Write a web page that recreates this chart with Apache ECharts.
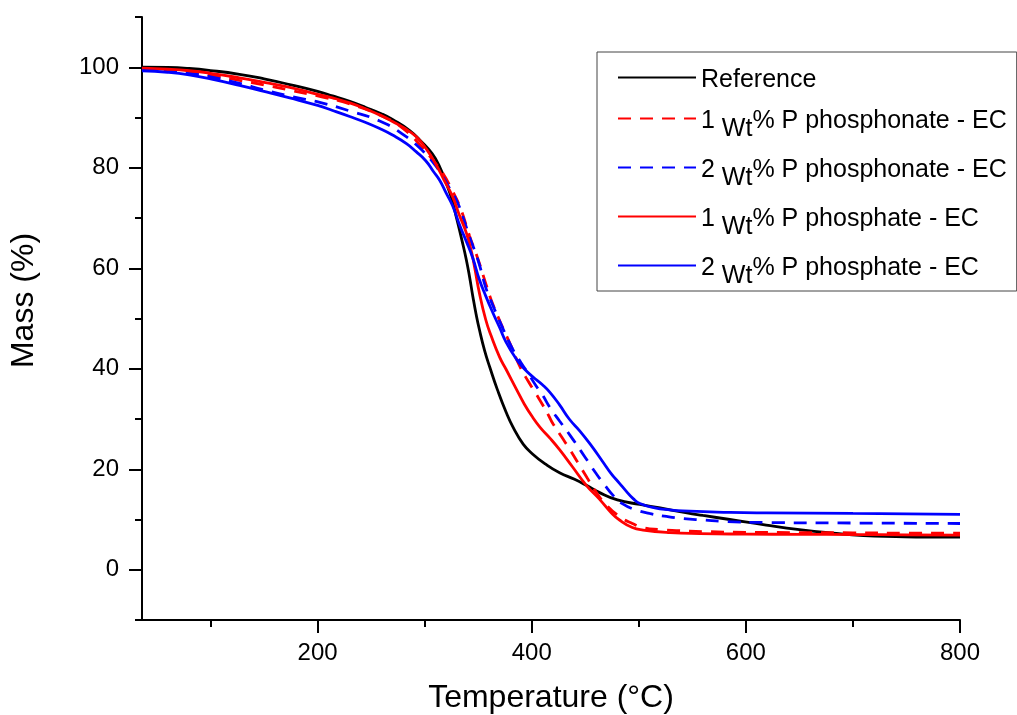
<!DOCTYPE html>
<html>
<head>
<meta charset="utf-8">
<script src="https://cdn.jsdelivr.net/npm/echarts@6/dist/echarts.min.js"></script>
<style>
html,body{margin:0;padding:0;background:#ffffff;}
#chart{width:1017px;height:715px;}
</style>
</head>
<body>
<div id="chart"></div>
<script>
// ---------- data ----------
const seriesNames = [
  'Reference',
  '1 Wt% P phosphonate - EC',
  '2 Wt% P phosphonate - EC',
  '1 Wt% P phosphate - EC',
  '2 Wt% P phosphate - EC'
];
const seriesColors = ['#000000', '#ff0000', '#0000ff', '#ff0000', '#0000ff'];
const seriesDashed = [false, true, true, false, false];

const xLabelValues = [200, 400, 600, 800];
const xMinorTickValues = [100, 300, 500, 700];
const yLabelValues = [0, 20, 40, 60, 80, 100];
const yMinorTickValues = [-10, 10, 30, 50, 70, 90, 110];

// [temperature °C, mass %]
const referenceData = [
  [36,100.0],[60,99.95],[80,99.75],[100,99.35],[127,98.6],[150,97.7],[175,96.5],[200,95.2],[214,94.3],
  [230,93.2],[245,92.0],[260,90.7],[270,89.6],[286,87.4],[297,85.2],[307,82.8],[314,80.2],[320,77.0],
  [325,74.0],[330,69.8],[335,65.4],[339,61.6],[342,58.2],[345,54.4],[348,50.9],[351,47.9],[356,43.6],
  [361,40.2],[368,35.8],[376,31.4],[383,28.2],[392,25.0],[401,23.0],[413,21.0],[426,19.3],[440,18.0],
  [451,16.8],[463,15.4],[480,13.9],[501,13.0],[520,12.3],[545,11.3],[560,10.8],[585,10.0],[619,8.9],
  [650,8.0],[681,7.3],[710,6.8],[740,6.6],[770,6.5],[800,6.5]
];
const phosphonate1Data = [
  [36,99.7],[60,99.4],[80,99.0],[100,98.4],[127,97.4],[150,96.5],[175,95.4],[200,94.3],[230,92.7],
  [261,90.2],[280,87.8],[298,84.0],[308,81.4],[317,78.9],[325,75.8],[333,72.2],[342,66.4],[350,61.7],
  [357,57.0],[362,53.8],[370,49.6],[381,44.4],[389,40.4],[397,37.4],[404,35.0],[410,32.9],[416,30.6],
  [420,29.0],[428,26.4],[436,23.8],[444,21.0],[452,18.2],[459,15.8],[470,12.8],[482,10.6],[494,9.2],
  [504,8.4],[520,8.0],[535,7.8],[560,7.6],[600,7.45],[650,7.4],[700,7.35],[750,7.3],[800,7.3]
];
const phosphonate2Data = [
  [36,99.6],[60,99.2],[80,98.8],[100,98.1],[127,96.8],[150,95.5],[177,94.1],[202,93.0],[230,91.3],
  [258,89.3],[280,86.6],[299,83.2],[308,81.0],[316,78.6],[323,76.0],[330,73.4],[336,70.0],[342,66.2],
  [350,61.5],[357,56.2],[362,53.5],[370,49.5],[381,44.4],[390,41.2],[397,39.0],[404,36.6],[410,34.8],
  [417,32.3],[426,29.6],[436,26.7],[446,23.6],[453,21.4],[460,19.2],[468,16.9],[476,14.8],[485,13.1],
  [496,12.0],[510,11.2],[526,10.6],[541,10.2],[560,9.9],[582,9.6],[619,9.4],[700,9.3],[800,9.2]
];
const phosphate1Data = [
  [36,99.8],[60,99.6],[80,99.3],[100,98.8],[127,97.9],[150,97.0],[174,96.0],[200,94.6],[214,93.9],
  [230,92.9],[245,91.7],[260,90.3],[270,89.2],[280,88.0],[292,86.2],[302,83.6],[311,80.5],[318,77.6],
  [326,74.3],[332,70.8],[339,67.0],[344,63.0],[347,59.8],[351,55.2],[357,49.8],[362,46.6],[370,42.3],
  [376,39.9],[386,35.8],[393,33.0],[401,30.3],[408,28.3],[417,26.2],[426,23.9],[438,20.5],[451,16.8],
  [463,14.1],[474,11.4],[482,9.9],[494,8.4],[504,7.9],[529,7.4],[557,7.2],[600,7.1],[650,7.05],
  [700,7.0],[750,6.95],[800,6.9]
];
const phosphate2Data = [
  [36,99.3],[60,99.0],[80,98.5],[100,97.7],[127,96.4],[150,95.2],[174,93.9],[200,92.4],
  [214,91.4],[230,90.2],[245,89.0],[258,87.8],[270,86.5],[283,84.8],[292,83.2],[301,81.4],[308,79.3],
  [314,77.5],[320,75.0],[326,72.5],[333,68.4],[339,65.3],[345,62.0],[351,57.8],[357,54.5],[364,51.0],
  [370,48.2],[376,45.3],[386,41.8],[393,40.0],[401,38.4],[410,36.8],[417,35.3],[426,32.8],[435,30.0],
  [445,27.6],[456,24.6],[466,21.6],[474,19.2],[482,17.2],[488,15.7],[495,14.1],[501,13.2],[515,12.3],
  [529,11.9],[541,11.7],[585,11.4],[619,11.3],[700,11.2],[800,11.0]
];
const seriesData = [referenceData, phosphonate1Data, phosphonate2Data, phosphate1Data, phosphate2Data];

// ---------- chart ----------
const FONT = '"Liberation Sans", Arial, Helvetica, sans-serif';
const gridRect = { left: 142, top: 17, width: 818, height: 603 };

const chart = echarts.init(document.getElementById('chart'), null, { renderer: 'canvas' });

const baseX = { type: 'value', min: 36, max: 800, splitLine: { show: false } };
const baseY = { type: 'value', min: -10, max: 110, splitLine: { show: false } };
const axisStroke = { color: '#000', width: 2 };

const option = {
  backgroundColor: '#ffffff',
  animation: false,
  grid: [
    Object.assign({ outerBoundsMode: 'none' }, gridRect),
    Object.assign({ outerBoundsMode: 'none' }, gridRect)
  ],
  xAxis: [
    Object.assign({}, baseX, {
      gridIndex: 0,
      position: 'bottom',
      axisLine: { show: true, onZero: false, lineStyle: axisStroke },
      axisTick: { show: true, customValues: xLabelValues, length: 13, lineStyle: axisStroke },
      axisLabel: { customValues: xLabelValues, margin: 21, fontSize: 24, color: '#000', fontFamily: FONT },
      name: 'Temperature (°C)',
      nameLocation: 'middle',
      nameGap: 62,
      nameMoveOverlap: false,
      nameTextStyle: { fontSize: 32, color: '#000', fontFamily: FONT }
    }),
    Object.assign({}, baseX, {
      gridIndex: 1,
      position: 'bottom',
      axisLine: { show: false, onZero: false },
      axisTick: { show: true, customValues: xMinorTickValues, length: 7, lineStyle: axisStroke },
      axisLabel: { show: false }
    })
  ],
  yAxis: [
    Object.assign({}, baseY, {
      gridIndex: 0,
      position: 'left',
      axisLine: { show: true, onZero: false, lineStyle: axisStroke },
      axisTick: { show: true, customValues: yLabelValues, length: 13, lineStyle: axisStroke },
      axisLabel: { customValues: yLabelValues, margin: 23, fontSize: 24, color: '#000', fontFamily: FONT },
      name: 'Mass (%)',
      nameLocation: 'middle',
      nameGap: 102,
      nameMoveOverlap: false,
      nameTextStyle: { fontSize: 32, color: '#000', fontFamily: FONT, padding: [0, 0, 0, 36] }
    }),
    Object.assign({}, baseY, {
      gridIndex: 1,
      position: 'left',
      axisLine: { show: false, onZero: false },
      axisTick: { show: true, customValues: yMinorTickValues, length: 7, lineStyle: axisStroke },
      axisLabel: { show: false }
    })
  ],
  legend: {
    data: seriesNames,
    orient: 'vertical',
    left: 597,
    top: 52,
    itemWidth: 78,
    itemHeight: 14,
    itemGap: 16,
    padding: [16, 10, 2, 20],
    borderColor: '#444',
    borderWidth: 1,
    backgroundColor: '#ffffff',
    selectedMode: false,
    itemStyle: { opacity: 0 },
    formatter: function (name) {
      const i = name.indexOf('Wt');
      if (i < 0) return '{n|' + name + '}';
      return '{n|' + name.slice(0, i) + '}{s|Wt}{n|' + name.slice(i + 2) + '}';
    },
    textStyle: {
      fontSize: 25,
      color: '#000',
      fontFamily: FONT,
      rich: {
        n: { fontSize: 25, color: '#000', fontFamily: FONT, padding: [6, 0, 0, 0] },
        s: { fontSize: 25, color: '#000', fontFamily: FONT, padding: [22, 0, 0, 0] }
      }
    }
  },
  series: seriesNames.map(function (name, i) {
    return {
      name: name,
      type: 'line',
      xAxisIndex: 0,
      yAxisIndex: 0,
      data: seriesData[i],
      symbol: 'none',
      showSymbol: false,
      smooth: 0.5,
      clip: true,
      color: seriesColors[i],
      lineStyle: {
        color: seriesColors[i],
        width: 2.8,
        type: seriesDashed[i] ? [13, 9] : 'solid'
      },
      emphasis: { disabled: true }
    };
  })
};

chart.setOption(option);
</script>
</body>
</html>
